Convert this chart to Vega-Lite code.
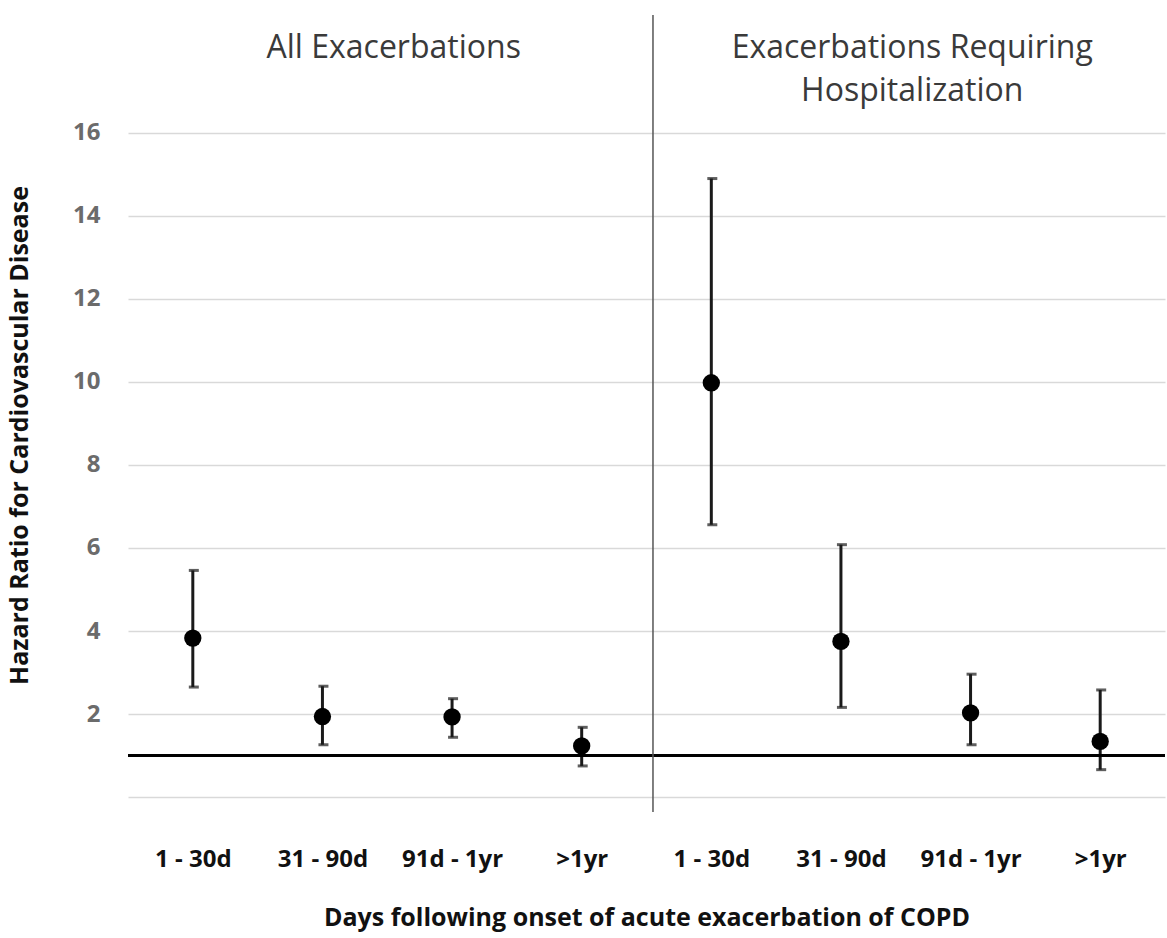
{
  "$schema": "https://vega.github.io/schema/vega-lite/v6.json",
  "autosize": "none",
  "width": 1037,
  "height": 797,
  "padding": {"left": 128, "top": 15, "right": 2, "bottom": 126},
  "background": "white",
  "datasets": {
    "hr": [
      {"idx": 1, "period": "1 - 30d", "group": "All Exacerbations", "hr": 3.83, "lo": 2.65, "hi": 5.46},
      {"idx": 2, "period": "31 - 90d", "group": "All Exacerbations", "hr": 1.94, "lo": 1.26, "hi": 2.67},
      {"idx": 3, "period": "91d - 1yr", "group": "All Exacerbations", "hr": 1.93, "lo": 1.44, "hi": 2.37},
      {"idx": 4, "period": ">1yr", "group": "All Exacerbations", "hr": 1.23, "lo": 0.75, "hi": 1.68},
      {"idx": 5, "period": "1 - 30d", "group": "Exacerbations Requiring Hospitalization", "hr": 9.98, "lo": 6.56, "hi": 14.9},
      {"idx": 6, "period": "31 - 90d", "group": "Exacerbations Requiring Hospitalization", "hr": 3.75, "lo": 2.16, "hi": 6.08},
      {"idx": 7, "period": "91d - 1yr", "group": "Exacerbations Requiring Hospitalization", "hr": 2.03, "lo": 1.26, "hi": 2.96},
      {"idx": 8, "period": ">1yr", "group": "Exacerbations Requiring Hospitalization", "hr": 1.34, "lo": 0.66, "hi": 2.58}
    ],
    "headers": [
      {"x": 2.55, "y": 18.05, "label": "All Exacerbations"},
      {"x": 6.55, "y": 18.05, "label": "Exacerbations Requiring\nHospitalization"}
    ],
    "refs": [
      {"baseline": 1, "divider": 4.55}
    ]
  },
  "layer": [
    {
      "data": {"name": "hr"},
      "mark": {"type": "rule", "color": "#1a1a1a", "strokeWidth": 3},
      "encoding": {
        "x": {
          "field": "idx",
          "type": "quantitative",
          "scale": {"domain": [0.5, 8.5], "nice": false, "zero": false},
          "axis": {
            "values": [1, 2, 3, 4, 5, 6, 7, 8],
            "labelExpr": "['', '1 - 30d', '31 - 90d', '91d - 1yr', '>1yr', '1 - 30d', '31 - 90d', '91d - 1yr', '>1yr'][datum.value]",
            "grid": false,
            "domain": false,
            "ticks": false,
            "labelPadding": 35,
            "labelFont": "Open Sans",
            "labelFontWeight": "bold",
            "labelFontSize": 24,
            "labelColor": "#111111",
            "title": "Days following onset of acute exacerbation of COPD",
            "titleFont": "Open Sans",
            "titleFontWeight": "bold",
            "titleFontSize": 25,
            "titleColor": "#111111",
            "titlePadding": 34
          }
        },
        "y": {
          "field": "lo",
          "type": "quantitative",
          "scale": {"domain": [-0.36, 18.84], "nice": false, "zero": false},
          "axis": {
            "values": [0, 2, 4, 6, 8, 10, 12, 14, 16],
            "labelExpr": "datum.value == 0 ? '' : datum.label",
            "domain": false,
            "ticks": false,
            "gridColor": "#d9d9d9",
            "gridWidth": 1.5,
            "labelPadding": 28,
            "labelFont": "Open Sans",
            "labelFontWeight": "bold",
            "labelFontSize": 24,
            "labelColor": "#6b6b6b",
            "title": "Hazard Ratio for Cardiovascular Disease",
            "titleFont": "Open Sans",
            "titleFontWeight": "bold",
            "titleFontSize": 25,
            "titleColor": "#111111",
            "titlePadding": 40,
            "titleY": 420
          }
        },
        "y2": {"field": "hi"}
      }
    },
    {
      "data": {"name": "hr"},
      "mark": {"type": "tick", "orient": "horizontal", "color": "#1a1a1a", "size": 10, "thickness": 3, "xOffset": 1},
      "encoding": {
        "x": {"field": "idx", "type": "quantitative"},
        "y": {"field": "hi", "type": "quantitative"}
      }
    },
    {
      "data": {"name": "hr"},
      "mark": {"type": "tick", "orient": "horizontal", "color": "#1a1a1a", "size": 10, "thickness": 3, "xOffset": 1},
      "encoding": {
        "x": {"field": "idx", "type": "quantitative"},
        "y": {"field": "lo", "type": "quantitative"}
      }
    },
    {
      "data": {"name": "hr"},
      "mark": {"type": "point", "shape": "circle", "filled": true, "color": "#000000", "opacity": 1, "size": 300},
      "encoding": {
        "x": {"field": "idx", "type": "quantitative"},
        "y": {"field": "hr", "type": "quantitative"},
        "tooltip": [
          {"field": "group", "type": "nominal"},
          {"field": "period", "type": "nominal"},
          {"field": "hr", "type": "quantitative", "title": "Hazard ratio"},
          {"field": "lo", "type": "quantitative"},
          {"field": "hi", "type": "quantitative"}
        ]
      }
    },
    {
      "data": {"name": "refs"},
      "mark": {"type": "rule", "color": "#000000", "strokeWidth": 3},
      "encoding": {"y": {"field": "baseline", "type": "quantitative"}}
    },
    {
      "data": {"name": "refs"},
      "mark": {"type": "rule", "color": "#555555", "strokeWidth": 1.5},
      "encoding": {"x": {"field": "divider", "type": "quantitative"}}
    },
    {
      "data": {"name": "headers"},
      "mark": {"type": "text", "font": "Open Sans", "fontSize": 32, "color": "#3a3a3a", "align": "center", "baseline": "middle", "lineBreak": "\n", "lineHeight": 43},
      "encoding": {
        "x": {"field": "x", "type": "quantitative"},
        "y": {"field": "y", "type": "quantitative"},
        "text": {"field": "label"}
      }
    }
  ],
  "config": {"view": {"stroke": null}}
}
